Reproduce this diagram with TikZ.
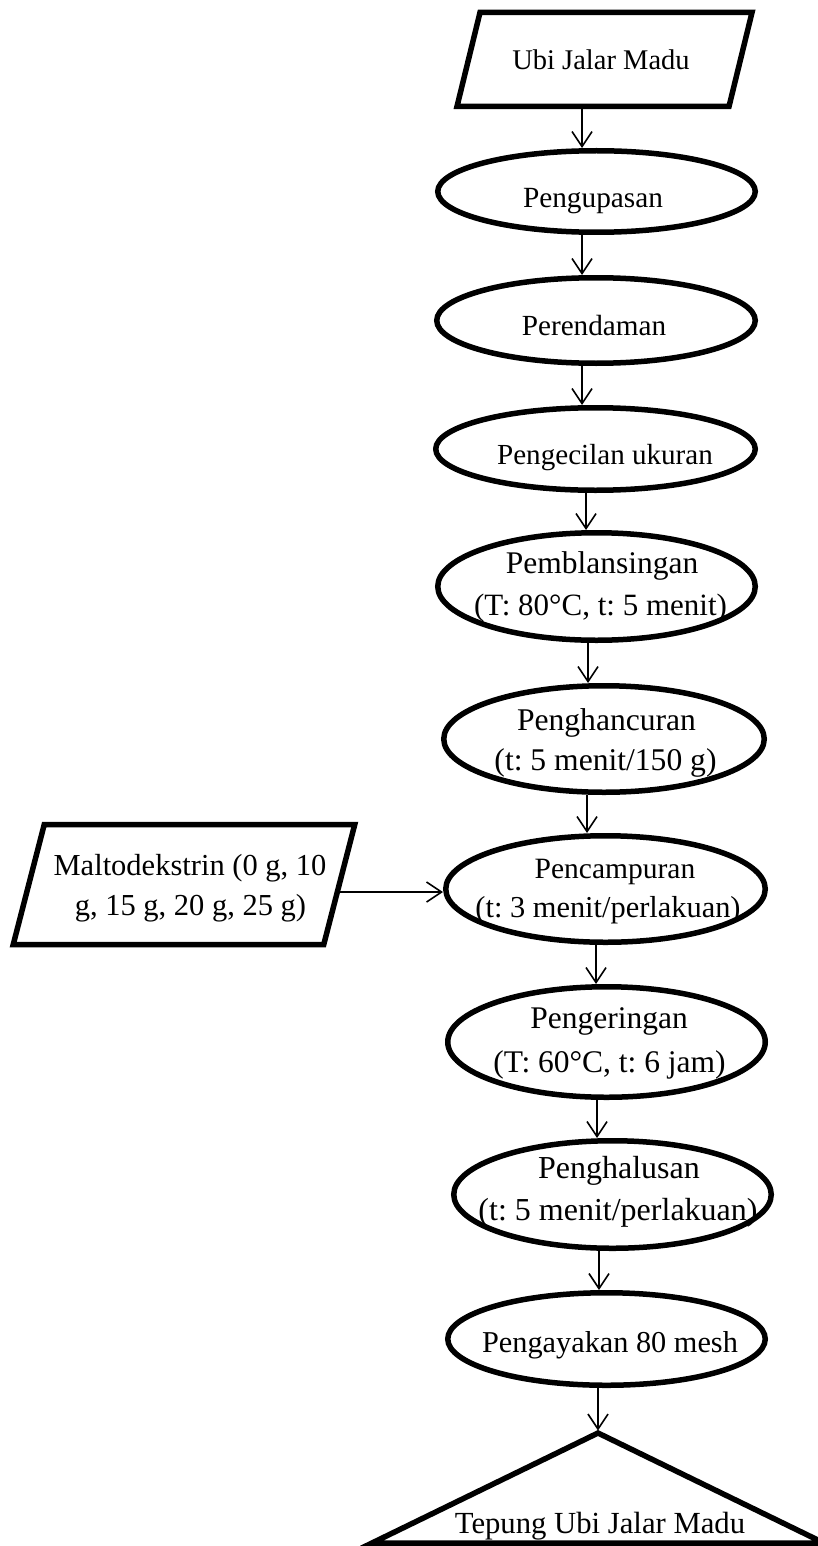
\documentclass[tikz,border=0pt]{standalone}
\usepackage{fontspec}
\setmainfont{Liberation Serif}
\frenchspacing
\usetikzlibrary{arrows.meta,shapes.geometric}
\newcommand\setfs[1]{\fontsize{#1}{#1}\selectfont}
\tikzset{
  proc/.style={ellipse, draw, line width=5.5pt, inner sep=0pt, outer sep=auto},
  frame/.style={draw=none, inner sep=0pt, outer sep=0pt},
  box/.style={draw, line width=5.5pt, line join=miter},
  txt/.style={inner sep=0pt, anchor=base},
  arr/.style={-{Straight Barb[length=15pt,width=20pt]}, line width=1.6pt}
}
\begin{document}
\begin{tikzpicture}[x=1pt,y=-1pt]
\useasboundingbox (0,0) rectangle (817,1546);

% input parallelogram (top)
\node[frame, minimum width=272, minimum height=94] (in1) at (604.5,59.5) {};
\draw[box] ([xshift=-11.5]in1.south west) -- ([xshift=11.5]in1.north west)
  -- ([xshift=11.5]in1.north east) -- ([xshift=-11.5]in1.south east) -- cycle;
\node[txt, font=\setfs{28.5}] (t0) at (601,70) {Ubi Jalar Madu};

% process ellipses
\node[proc, minimum width=317.5, minimum height=81.5] (p1) at (596.5,191.5) {};
\node[proc, minimum width=318.5, minimum height=85.5] (p2) at (596,320.5) {};
\node[proc, minimum width=319.5, minimum height=82.5] (p3) at (595.5,449) {};
\node[proc, minimum width=317.5, minimum height=107.5] (p4) at (596.5,586.5) {};
\node[proc, minimum width=320.5, minimum height=106.5] (p5) at (604,739) {};
\node[proc, minimum width=319.5, minimum height=106.5] (p6) at (605.5,889) {};
\node[proc, minimum width=317.5, minimum height=110.5] (p7) at (606.5,1042) {};
\node[proc, minimum width=317.5, minimum height=107.5] (p8) at (612.5,1194.5) {};
\node[proc, minimum width=317.5, minimum height=92.5] (p9) at (606.5,1339) {};

\node[txt, font=\setfs{29.3}] (t1) at (593,208) {Pengupasan};
\node[txt, font=\setfs{29.2}] (t2) at (594,335) {Perendaman};
\node[txt, font=\setfs{29.1}] (t3) at (605,464) {Pengecilan ukuran};
\node[txt, font=\setfs{31.5}] (t4a) at (602,573) {Pemblansingan};
\node[txt, font=\setfs{31}] (t4b) at (600.5,615) {(T: 80°C, t: 5 menit)};
\node[txt, font=\setfs{31.6}] (t5a) at (606.5,730) {Penghancuran};
\node[txt, font=\setfs{31.6}] (t5b) at (605.5,770) {(t: 5 menit/150 g)};
\node[txt, font=\setfs{29.5}] (t6a) at (615,878) {Pencampuran};
\node[txt, font=\setfs{30.4}] (t6b) at (608,917) {(t: 3 menit/perlakuan)};
\node[txt, font=\setfs{31.5}] (t7a) at (609,1028) {Pengeringan};
\node[txt, font=\setfs{31.5}] (t7b) at (609.5,1072) {(T: 60°C, t: 6 jam)};
\node[txt, font=\setfs{32}] (t8a) at (619,1178) {Penghalusan};
\node[txt, font=\setfs{32}] (t8b) at (618,1220) {(t: 5 menit/perlakuan)};
\node[txt, font=\setfs{30.3}] (t9) at (610,1352) {Pengayakan 80 mesh};

% side input parallelogram
\node[frame, minimum width=310.5, minimum height=120] (in2) at (184,884.5) {};
\draw[box] ([xshift=-15.5]in2.south west) -- ([xshift=15.5]in2.north west)
  -- ([xshift=15.5]in2.north east) -- ([xshift=-15.5]in2.south east) -- cycle;
\node[txt, font=\setfs{30.5}] (m1) at (190,875) {Maltodekstrin (0 g, 10};
\node[txt, font=\setfs{30.5}] (m2) at (190.5,915) {g, 15 g, 20 g, 25 g)};

% output triangle
\coordinate (outtop) at (598,1433);
\draw[box] (372,1543) -- (outtop) -- (824,1543) -- cycle;
\node[txt, font=\setfs{30.7}] (out) at (600,1533) {Tepung Ubi Jalar Madu};

% connectors
\draw[arr] (in1.south -| 582,0) -- (p1.north -| 582,0);
\draw[arr] (p1.south -| 582,0) -- (p2.north -| 582,0);
\draw[arr] (p2.south -| 582,0) -- (p3.north -| 582,0);
\draw[arr] (p3.south -| 586,0) -- (p4.north -| 586,0);
\draw[arr] (p4.south -| 588,0) -- (p5.north -| 588,0);
\draw[arr] (p5.south -| 587,0) -- (p6.north -| 587,0);
\draw[arr] (p6.south -| 596,0) -- (p7.north -| 596,0);
\draw[arr] (p7.south -| 597,0) -- (p8.north -| 597,0);
\draw[arr] (p8.south -| 599,0) -- (p9.north -| 599,0);
\draw[arr] (p9.south -| 598,0) -- ([yshift=2.5]outtop);
\draw[arr] ([yshift=-7.5]in2.east) -- ([yshift=-7.5]in2.east -| p6.west);
\end{tikzpicture}
\end{document}
